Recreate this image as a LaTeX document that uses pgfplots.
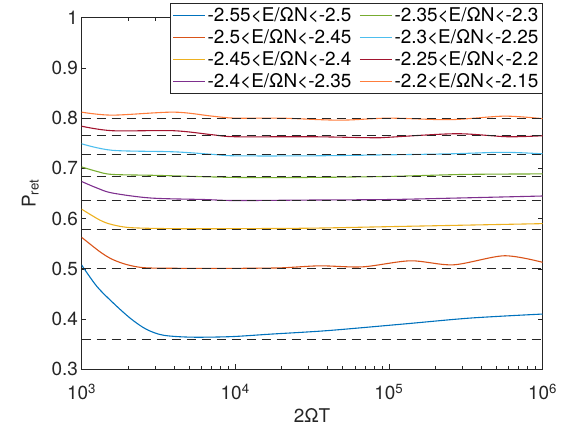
\documentclass[border=0pt]{standalone}
\usepackage{fontspec}
\setmainfont{TeX Gyre Heros}
\usepackage{pgfplots}
\pgfplotsset{compat=1.18}

\definecolor{mblue}{RGB}{0,114,189}
\definecolor{morange}{RGB}{217,83,25}
\definecolor{myellow}{RGB}{237,177,32}
\definecolor{mpurple}{RGB}{126,47,142}
\definecolor{mgreen}{RGB}{119,172,48}
\definecolor{mcyan}{RGB}{77,190,238}
\definecolor{mred}{RGB}{162,20,47}
\definecolor{mlorange}{RGB}{255,125,60}
\definecolor{axgray}{gray}{0.15}

\begin{document}
\begin{tikzpicture}
\begin{axis}[
    name=ax,
    scale only axis,
    width=461bp, height=351.6bp,
    xmode=log, log basis x=10,
    xmin=1e3, xmax=1e6,
    ymin=0.3, ymax=1,
    ytick={0.3,0.4,...,1.0},
    font=\fontsize{19}{22}\selectfont,
    axis line style={axgray, line width=0.5pt},
    every tick/.style={axgray, line width=0.5pt},
    tick align=inside,
    tick pos=both,
    major tick length=5bp,
    minor tick length=3bp,
    ticklabel style={text=axgray},
    xticklabel={10\textsuperscript{\pgfmathprintnumber[fixed,precision=0,assume math mode=true]{\tick}}},
    xticklabel style={yshift=-11bp},
    yticklabel style={/pgf/number format/assume math mode=true, /pgf/number format/fixed, /pgf/number format/precision=1},
    xlabel={2ΩT},
    ylabel={P\textsubscript{ret}},
    xlabel style={yshift=-2bp},
    ylabel shift=6bp,
    label style={text=axgray},
    legend columns=2,
    legend cell align=left,
    legend style={at={(1,1.041)}, anchor=north east, draw=axgray,
        font=\fontsize{19}{22}\selectfont,
        /tikz/every even column/.append style={column sep=6bp},
        row sep=2.5bp, inner xsep=2bp, inner ysep=2bp},
    legend image code/.code={\draw[#1] (0bp,0bp) -- (32bp,0bp);},
    legend image post style={line width=1.1pt},
]
\addplot[draw=mblue, line width=1.1pt, smooth] coordinates {(1000,0.508)(1259,0.465)(1622,0.431)(2089,0.401)(2630,0.380)(3388,0.368)(5129,0.364)(9333,0.365)(16982,0.370)(39811,0.377)(123027,0.390)(338844,0.402)(1e6,0.410)};
\addlegendentry{-2.55<E/ΩN<-2.5}
\addplot[draw=mgreen, line width=1.1pt, smooth] coordinates {(1000,0.703)(1259,0.694)(1585,0.688)(3162,0.686)(10000,0.682)(31623,0.682)(1e5,0.684)(316228,0.688)(1e6,0.689)};
\addlegendentry{-2.35<E/ΩN<-2.3}
\addplot[draw=morange, line width=1.1pt, smooth] coordinates {(1000,0.563)(1318,0.534)(1585,0.519)(1995,0.508)(2630,0.502)(5000,0.501)(10000,0.501)(19953,0.502)(35481,0.506)(67608,0.504)(138038,0.516)(263027,0.508)(562341,0.526)(1e6,0.513)};
\addlegendentry{-2.5<E/ΩN<-2.45}
\addplot[draw=mcyan, line width=1.1pt, smooth] coordinates {(1000,0.749)(1585,0.736)(3981,0.733)(7079,0.728)(10000,0.725)(31623,0.725)(1e5,0.727)(251189,0.729)(562341,0.732)(1e6,0.729)};
\addlegendentry{-2.3<E/ΩN<-2.25}
\addplot[draw=myellow, line width=1.1pt, smooth] coordinates {(1000,0.619)(1318,0.597)(1585,0.588)(2089,0.582)(3981,0.580)(10000,0.580)(31623,0.581)(1e5,0.584)(316228,0.587)(1e6,0.590)};
\addlegendentry{-2.45<E/ΩN<-2.4}
\addplot[draw=mred, line width=1.1pt, smooth] coordinates {(1000,0.784)(1585,0.775)(3981,0.775)(7079,0.767)(10000,0.763)(31623,0.763)(79433,0.761)(1e5,0.762)(275423,0.769)(588844,0.763)(1e6,0.765)};
\addlegendentry{-2.25<E/ΩN<-2.2}
\addplot[draw=mpurple, line width=1.1pt, smooth] coordinates {(1000,0.674)(1259,0.661)(1585,0.651)(2818,0.641)(6310,0.638)(10000,0.636)(31623,0.637)(1e5,0.638)(281838,0.641)(1e6,0.645)};
\addlegendentry{-2.4<E/ΩN<-2.35}
\addplot[draw=mlorange, line width=1.1pt, smooth] coordinates {(1000,0.812)(1585,0.806)(3981,0.812)(7079,0.804)(10000,0.800)(19953,0.800)(47863,0.796)(1e5,0.800)(251189,0.797)(562341,0.804)(1e6,0.799)};
\addlegendentry{-2.2<E/ΩN<-2.15}
% asymptotic levels
\pgfplotsinvokeforeach{0.800,0.765,0.727,0.685,0.637,0.579,0.501,0.359}{
  \addplot[draw=black!85, line width=0.7pt, dash pattern=on 9bp off 6bp, forget plot] coordinates {(1e3,#1)(1e6,#1)};
}
\end{axis}
\path (ax.south west) ++(-81.5bp,-63.7bp) rectangle ++(568bp,433bp);
\end{tikzpicture}
\end{document}
